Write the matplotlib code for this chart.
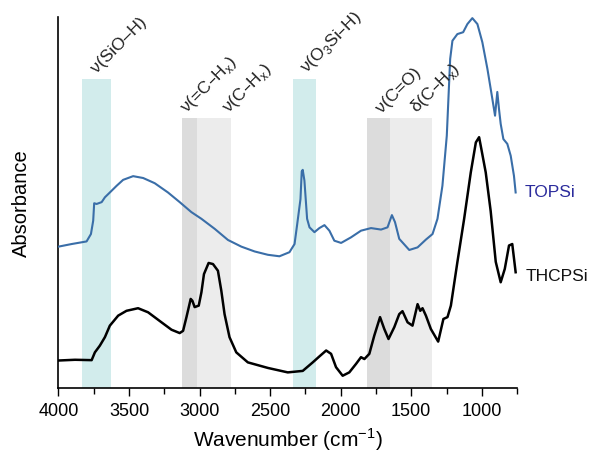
import matplotlib
matplotlib.use("Agg")
import matplotlib.pyplot as plt
from matplotlib.ticker import MultipleLocator

plt.rcParams['font.family'] = ['Liberation Sans', 'DejaVu Sans']

# FTIR spectra (wavenumber in cm^-1, absorbance in arbitrary units, offset)
topsi_wn = [4000, 3907, 3801, 3770, 3754, 3747, 3730, 3694, 3671, 3636, 3588,
            3542, 3471, 3400, 3318, 3224, 3141, 3058, 2987, 2893, 2799, 2704,
            2610, 2516, 2434, 2363, 2327, 2308, 2285, 2276, 2269, 2257, 2238,
            2221, 2186, 2151, 2115, 2080, 2045, 1997, 1927, 1856, 1785, 1714,
            1668, 1637, 1615, 1585, 1514, 1455, 1396, 1349, 1314, 1279, 1248,
            1224, 1208, 1173, 1132, 1102, 1067, 1031, 996, 960, 925, 906, 890,
            878, 866, 847, 819, 795, 772, 760]
topsi_abs = [0.381, 0.388, 0.395, 0.415, 0.451, 0.498, 0.496, 0.501, 0.514,
             0.527, 0.545, 0.561, 0.571, 0.566, 0.552, 0.527, 0.501, 0.474,
             0.456, 0.429, 0.399, 0.381, 0.368, 0.359, 0.355, 0.366, 0.388,
             0.442, 0.509, 0.584, 0.588, 0.559, 0.456, 0.433, 0.420, 0.431,
             0.439, 0.424, 0.397, 0.391, 0.406, 0.424, 0.431, 0.427, 0.433,
             0.466, 0.447, 0.402, 0.372, 0.379, 0.400, 0.415, 0.456, 0.545,
             0.680, 0.887, 0.936, 0.954, 0.959, 0.981, 0.997, 0.981, 0.932,
             0.860, 0.779, 0.734, 0.798, 0.752, 0.712, 0.671, 0.658, 0.626,
             0.572, 0.527]

thcpsi_wn = [4000, 3883, 3765, 3742, 3707, 3671, 3636, 3577, 3518, 3436, 3365,
             3270, 3199, 3141, 3117, 3093, 3063, 3051, 3035, 3006, 2987, 2969,
             2936, 2905, 2870, 2846, 2823, 2788, 2740, 2658, 2516, 2375, 2269,
             2198, 2151, 2103, 2068, 2033, 1986, 1939, 1891, 1856, 1832, 1797,
             1762, 1721, 1691, 1661, 1620, 1585, 1562, 1526, 1491, 1455, 1436,
             1420, 1396, 1361, 1309, 1272, 1243, 1219, 1173, 1125, 1078, 1042,
             1019, 1003, 972, 937, 901, 866, 837, 807, 784, 760]
thcpsi_abs = [0.074, 0.076, 0.075, 0.096, 0.114, 0.137, 0.168, 0.195, 0.208,
              0.215, 0.204, 0.177, 0.157, 0.148, 0.154, 0.191, 0.240, 0.235,
              0.218, 0.222, 0.258, 0.307, 0.337, 0.334, 0.316, 0.262, 0.199,
              0.137, 0.096, 0.069, 0.054, 0.042, 0.046, 0.069, 0.085, 0.101,
              0.092, 0.056, 0.033, 0.042, 0.065, 0.083, 0.078, 0.092, 0.141,
              0.191, 0.159, 0.132, 0.164, 0.199, 0.207, 0.177, 0.168, 0.226,
              0.208, 0.215, 0.195, 0.159, 0.125, 0.186, 0.191, 0.222, 0.339,
              0.456, 0.581, 0.662, 0.676, 0.644, 0.581, 0.477, 0.340, 0.285,
              0.321, 0.384, 0.388, 0.312]

# Band assignments: (low, high) wavenumber, shade, top height
bands = [
    (3625, 3830, '#d2ecec', 0.833),
    (2175, 2340, '#d2ecec', 0.833),
    (3015, 3125, '#dcdcdc', 0.728),
    (2775, 3015, '#ececec', 0.728),
    (1650, 1810, '#dcdcdc', 0.728),
    (1355, 1650, '#ececec', 0.728),
]
band_labels = [
    (3725, 0.850, r'ν(SiO–H)'),
    (3090, 0.742, r'ν(=C–H$_{\mathregular{x}}$)'),
    (2795, 0.742, r'ν(C–H$_{\mathregular{x}}$)'),
    (2240, 0.850, r'ν(O$_{\mathregular{3}}$Si–H)'),
    (1710, 0.742, r'ν(C=O)'),
    (1462, 0.742, r'δ(C–H$_{\mathregular{x}}$)'),
]

fig = plt.figure(figsize=(5.95, 4.56), dpi=100)
ax = fig.add_axes([0.0983, 0.147, 0.7707, 0.8135])

for lo, hi, col, top in bands:
    ax.fill_between([lo, hi], 0, top, color=col, lw=0, zorder=0)

ax.plot(topsi_wn, topsi_abs, color='#3a6ea8', lw=1.5, zorder=3)
ax.plot(thcpsi_wn, thcpsi_abs, color='black', lw=1.8, zorder=3)

for x, y, s in band_labels:
    ax.text(x, y, s, rotation=45, rotation_mode='anchor', ha='left',
            va='baseline', fontsize=12.5, color='#222222')

ax.text(693, 0.53, 'TOPSi', color='#2b2b9c', fontsize=12.5, va='center', ha='left')
ax.text(692, 0.303, 'THCPSi', color='#111111', fontsize=12.5, va='center', ha='left')

ax.set_xlim(4000, 750)
ax.set_ylim(0, 1.0)
ax.xaxis.set_major_locator(MultipleLocator(500))
ax.xaxis.set_minor_locator(MultipleLocator(250))
ax.tick_params(axis='x', which='major', direction='out', length=6, width=1,
               labelsize=13, pad=4)
ax.tick_params(axis='x', which='minor', direction='out', length=4, width=1)
ax.set_yticks([])
for side in ('top', 'right'):
    ax.spines[side].set_visible(False)
ax.spines['left'].set_linewidth(1.2)
ax.spines['bottom'].set_linewidth(1.2)

ax.set_xlabel('Wavenumber (cm$^{\\mathregular{-1}}$)', fontsize=15, labelpad=5)
ax.set_ylabel('Absorbance', fontsize=14.5, labelpad=20)

fig.savefig('out.png', dpi=100)
